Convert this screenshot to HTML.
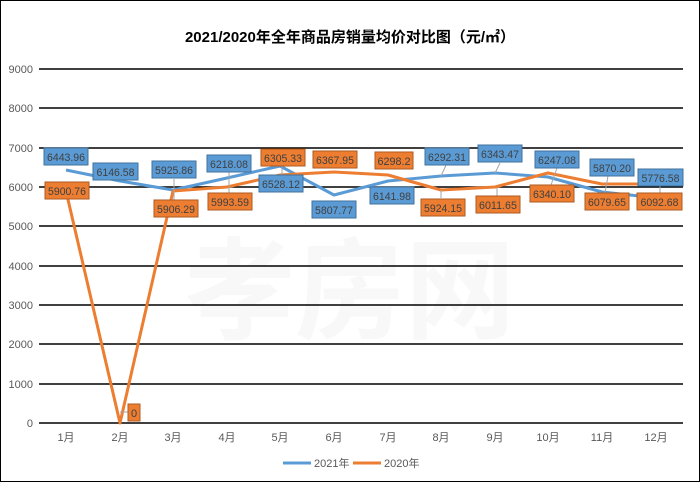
<!DOCTYPE html>
<html><head><meta charset="utf-8"><style>
body{margin:0;background:#fff}
svg text{font-family:"Liberation Sans","Noto Sans CJK SC",sans-serif}
</style></head><body>
<svg width="700" height="482" xmlns="http://www.w3.org/2000/svg">
<rect x="0.5" y="0.5" width="699" height="481" fill="#fff" stroke="#000"/>
<text x="350" y="42" font-size="15" font-weight="bold" text-anchor="middle" fill="#000">2021/2020年全年商品房销量均价对比图（元/㎡）</text>
<text x="350" y="330" font-size="110" font-weight="bold" fill="#f8f8f8" text-anchor="middle" font-family="Noto Sans CJK SC">孝房网</text>
<g stroke="#000" stroke-width="1.5">
<line x1="39" x2="683" y1="69" y2="69"/><line x1="39" x2="683" y1="108" y2="108"/>
<line x1="39" x2="683" y1="148" y2="148"/><line x1="39" x2="683" y1="187" y2="187"/>
<line x1="39" x2="683" y1="226" y2="226"/><line x1="39" x2="683" y1="266" y2="266"/>
<line x1="39" x2="683" y1="305" y2="305"/><line x1="39" x2="683" y1="344" y2="344"/>
<line x1="39" x2="683" y1="384" y2="384"/><line x1="39" x2="683" y1="423" y2="423"/>
</g>
<g font-size="11" fill="#595959" text-anchor="end">
<text x="33" y="73">9000</text><text x="33" y="112">8000</text><text x="33" y="152">7000</text>
<text x="33" y="191">6000</text><text x="33" y="230">5000</text><text x="33" y="270">4000</text>
<text x="33" y="309">3000</text><text x="33" y="348">2000</text><text x="33" y="388">1000</text>
<text x="33" y="427">0</text></g>
<g font-size="11" fill="#595959" text-anchor="middle">
<text x="66" y="441">1月</text><text x="120" y="441">2月</text><text x="173" y="441">3月</text>
<text x="227" y="441">4月</text><text x="280" y="441">5月</text><text x="334" y="441">6月</text>
<text x="388" y="441">7月</text><text x="441" y="441">8月</text><text x="495" y="441">9月</text>
<text x="548" y="441">10月</text><text x="602" y="441">11月</text><text x="656" y="441">12月</text></g>
<g fill="none" stroke-width="3" stroke-linejoin="round">
<polyline stroke="#5b9bd5" points="66,170 120,181 173,190 227,178 280,166 334,195 388,181 441,176 495,173 548,177 602,192 640,196"/>
<polyline stroke="#ed7d31" points="66,191 120,423 173,191 227,187 280,175 334,172 388,175 441,190 495,187 548,173 602,184 638,184"/>
</g>
<g stroke="#a6a6a6" stroke-width="1">
<line x1="174" y1="179" x2="174" y2="200"/><line x1="229" y1="172" x2="229" y2="180"/>
<line x1="229" y1="178" x2="229" y2="195"/><line x1="282" y1="165" x2="282" y2="176"/>
<line x1="447" y1="163" x2="441" y2="176"/><line x1="500" y1="163" x2="495" y2="173"/>
<line x1="557" y1="168" x2="551" y2="185"/><line x1="608" y1="176" x2="605" y2="193"/>
<line x1="660" y1="186" x2="660" y2="194"/><line x1="441" y1="190" x2="441" y2="198"/>
<line x1="497" y1="188" x2="497" y2="197"/><line x1="120" y1="412" x2="128" y2="412"/>
</g>
<g font-size="11" fill="#404040" text-anchor="middle" stroke-width="1">
<g fill="#5b9bd5" stroke="#41719c">
<rect x="44" y="148" width="44" height="17"/><rect x="93" y="163" width="45" height="17"/>
<rect x="152" y="161" width="44" height="17"/><rect x="207" y="155" width="44" height="17"/>
<rect x="259" y="175" width="44" height="17"/><rect x="312" y="201" width="44" height="17"/>
<rect x="370" y="187" width="44" height="17"/><rect x="425" y="148" width="44" height="17"/>
<rect x="478" y="145" width="44" height="17"/><rect x="535" y="151" width="44" height="17"/>
<rect x="590" y="159" width="44" height="17"/><rect x="638" y="169" width="45" height="17"/>
</g>
<g fill="#ed7d31" stroke="#ae5a21">
<rect x="45" y="182" width="44" height="17"/><rect x="128" y="404" width="12" height="17"/>
<rect x="154" y="200" width="44" height="17"/><rect x="208" y="193" width="44" height="17"/>
<rect x="261" y="149" width="44" height="17"/><rect x="313" y="151" width="44" height="17"/>
<rect x="375" y="152" width="38" height="17"/><rect x="421" y="199" width="44" height="17"/>
<rect x="476" y="196" width="44" height="17"/><rect x="530" y="185" width="44" height="17"/>
<rect x="585" y="193" width="44" height="17"/><rect x="637" y="193" width="45" height="17"/>
</g>
<g textLength="38" lengthAdjust="spacingAndGlyphs">
<text x="66" y="161" textLength="38" lengthAdjust="spacingAndGlyphs">6443.96</text>
<text x="115.5" y="176" textLength="38" lengthAdjust="spacingAndGlyphs">6146.58</text>
<text x="174" y="174" textLength="38" lengthAdjust="spacingAndGlyphs">5925.86</text>
<text x="229" y="168" textLength="38" lengthAdjust="spacingAndGlyphs">6218.08</text>
<text x="281" y="188" textLength="38" lengthAdjust="spacingAndGlyphs">6528.12</text>
<text x="334" y="214" textLength="38" lengthAdjust="spacingAndGlyphs">5807.77</text>
<text x="392" y="200" textLength="38" lengthAdjust="spacingAndGlyphs">6141.98</text>
<text x="447" y="161" textLength="38" lengthAdjust="spacingAndGlyphs">6292.31</text>
<text x="500" y="158" textLength="38" lengthAdjust="spacingAndGlyphs">6343.47</text>
<text x="557" y="164" textLength="38" lengthAdjust="spacingAndGlyphs">6247.08</text>
<text x="612" y="172" textLength="38" lengthAdjust="spacingAndGlyphs">5870.20</text>
<text x="660.5" y="182" textLength="38" lengthAdjust="spacingAndGlyphs">5776.58</text>
<text x="67" y="195" textLength="38" lengthAdjust="spacingAndGlyphs">5900.76</text>
<text x="134" y="417">0</text>
<text x="176" y="213" textLength="38" lengthAdjust="spacingAndGlyphs">5906.29</text>
<text x="230" y="206" textLength="38" lengthAdjust="spacingAndGlyphs">5993.59</text>
<text x="283" y="162" textLength="38" lengthAdjust="spacingAndGlyphs">6305.33</text>
<text x="335" y="164" textLength="38" lengthAdjust="spacingAndGlyphs">6367.95</text>
<text x="394" y="165" textLength="33" lengthAdjust="spacingAndGlyphs">6298.2</text>
<text x="443" y="212" textLength="38" lengthAdjust="spacingAndGlyphs">5924.15</text>
<text x="498" y="209" textLength="38" lengthAdjust="spacingAndGlyphs">6011.65</text>
<text x="552" y="198" textLength="38" lengthAdjust="spacingAndGlyphs">6340.10</text>
<text x="607" y="206" textLength="38" lengthAdjust="spacingAndGlyphs">6079.65</text>
<text x="659.5" y="206" textLength="38" lengthAdjust="spacingAndGlyphs">6092.68</text>
</g></g>
<line x1="283" y1="463" x2="311" y2="463" stroke="#5b9bd5" stroke-width="3"/>
<text x="314" y="467" font-size="11" fill="#595959">2021年</text>
<line x1="353" y1="463" x2="381" y2="463" stroke="#ed7d31" stroke-width="3"/>
<text x="384" y="467" font-size="11" fill="#595959">2020年</text>
</svg>
</body></html>
